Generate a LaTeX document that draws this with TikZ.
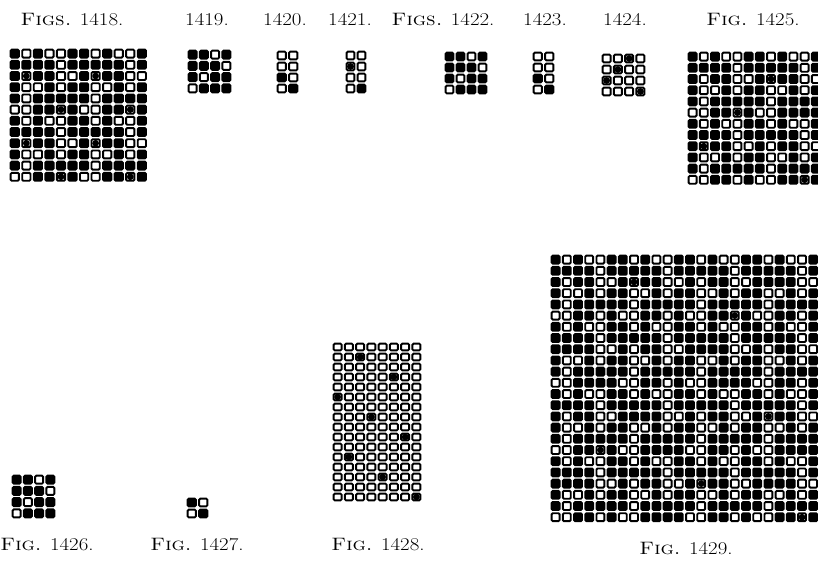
\documentclass[tikz,border=0pt]{standalone}
\usepackage{graphicx}
\tikzset{
  cellbase/.style={line width=1.9pt, rounded corners=1.1pt, draw=black},
  cellon/.style={cellbase, fill=black},
  celloff/.style={cellbase, fill=white},
  lab/.style={font=\fontsize{18}{20}\selectfont, inner sep=0pt, anchor=base}
}
\newcommand\sx[1]{\scalebox{1.16}[1]{#1}}
\newcommand\wv[5]{%
  \foreach \rw [count=\ri] in {#5}{%
    \foreach \cv [count=\ki] in \rw{%
      \pgfmathsetmacro\xa{#1+(\ki-1)*#3+1.65}%
      \pgfmathsetmacro\ya{#2+(\ri-1)*#4+1.65}%
      \pgfmathsetmacro\xb{#1+\ki*#3-1.65}%
      \pgfmathsetmacro\yb{#2+\ri*#4-1.65}%
      \ifcase\cv\relax
        \path[celloff] (\xa,\ya) rectangle (\xb,\yb);
      \or
        \path[cellon] (\xa,\ya) rectangle (\xb,\yb);
      \or
        \path[celloff] (\xa,\ya) rectangle (\xb,\yb);
        \fill ({(\xa+\xb)/2},{(\ya+\yb)/2}) circle[radius=3.4pt];
      \fi
    }}}
\begin{document}
\begin{tikzpicture}[x=1pt,y=-1pt]
\useasboundingbox (0,0) rectangle (818,562);
\fill[white] (0,0) rectangle (818,562);

% labels
\node[lab] (l1418) at (72,25) {\sx{\textsc{Figs.} 1418.}};
\node[lab] (l1419) at (207,25) {\sx{1419.}};
\node[lab] (l1420) at (285,25) {\sx{1420.}};
\node[lab] (l1421) at (350,25) {\sx{1421.}};
\node[lab] (l1422) at (443,25) {\sx{\textsc{Figs.} 1422.}};
\node[lab] (l1423) at (545,25) {\sx{1423.}};
\node[lab] (l1424) at (625,25) {\sx{1424.}};
\node[lab] (l1425) at (753,25) {\sx{\textsc{Fig.} 1425.}};
\node[lab] (l1426) at (47,550) {\sx{\textsc{Fig.} 1426.}};
\node[lab] (l1427) at (197,550) {\sx{\textsc{Fig.} 1427.}};
\node[lab] (l1428) at (378,550) {\sx{\textsc{Fig.} 1428.}};
\node[lab] (l1429) at (686,554) {\sx{\textsc{Fig.} 1429.}};

% Fig 1418
\wv{9}{48}{11.55}{11.2}{
{1,0,1,0,0,1,1,0,1,0,0,1},
{1,1,1,1,0,1,1,1,1,1,0,1},
{1,2,1,1,0,0,1,2,1,1,0,0},
{1,0,0,1,0,1,1,0,0,1,0,1},
{1,0,1,1,1,1,1,0,1,1,1,1},
{0,0,1,1,2,1,0,0,1,1,2,1},
{1,0,1,0,0,1,1,0,1,0,0,1},
{1,1,1,1,0,1,1,1,1,1,0,1},
{1,2,1,1,0,0,1,2,1,1,0,0},
{1,0,0,1,0,1,1,0,0,1,0,1},
{1,0,1,1,1,1,1,0,1,1,1,1},
{0,0,1,1,2,1,0,0,1,1,2,1}}

% Fig 1419
\wv{187}{49}{11.25}{11.25}{{1,1,0,1},{1,1,1,0},{1,0,1,1},{0,1,1,1}}
% Fig 1420
\wv{276}{50}{11.5}{11}{{0,0},{0,0},{1,0},{0,1}}
% Fig 1421
\wv{345}{50}{11}{11}{{0,0},{2,0},{0,0},{0,1}}
% Fig 1422
\wv{444}{51}{11}{11}{{1,1,0,1},{1,1,1,0},{1,0,1,1},{0,1,1,1}}
% Fig 1423
\wv{532}{51}{11.5}{11}{{0,0},{0,0},{1,0},{0,1}}
% Fig 1424
\wv{601}{53}{11.25}{11}{{0,0,2,0},{0,2,0,0},{2,0,0,0},{0,0,0,2}}

% Fig 1425
\wv{687}{51}{11.2}{11.2}{
{1,0,1,0,0,1,1,0,1,0,0,1},
{1,1,1,1,0,1,1,1,1,1,0,1},
{1,0,1,1,0,0,1,2,1,1,0,0},
{1,0,0,1,0,1,1,0,0,1,0,1},
{1,0,1,1,1,1,1,0,1,1,1,1},
{0,0,1,1,2,1,0,0,1,1,1,1},
{1,0,1,0,0,1,1,0,1,0,0,1},
{1,1,1,1,0,1,1,1,1,1,0,1},
{1,2,1,1,0,0,1,0,1,1,0,0},
{1,0,0,1,0,1,1,0,0,1,0,1},
{1,0,1,1,1,1,1,0,1,1,1,1},
{0,0,1,1,0,1,0,0,1,1,2,1}}

% Fig 1426
\wv{11}{474}{11.25}{11.25}{{1,1,0,1},{1,1,1,0},{1,0,1,1},{0,1,1,1}}
% Fig 1427
\wv{186}{497}{11.5}{11}{{1,0},{0,1}}

% Fig 1428
\wv{332}{342}{11.25}{10}{
{0,0,0,0,0,0,0,0},{0,0,2,0,0,0,0,0},
{0,0,0,0,0,0,0,0},{0,0,0,0,0,2,0,0},
{0,0,0,0,0,0,0,0},{2,0,0,0,0,0,0,0},
{0,0,0,0,0,0,0,0},{0,0,0,2,0,0,0,0},
{0,0,0,0,0,0,0,0},{0,0,0,0,0,0,2,0},
{0,0,0,0,0,0,0,0},{0,2,0,0,0,0,0,0},
{0,0,0,0,0,0,0,0},{0,0,0,0,2,0,0,0},
{0,0,0,0,0,0,0,0},{0,0,0,0,0,0,0,2}}

% Fig 1429
\wv{550}{254}{11.2}{11.2}{
{1,0,1,0,0,1,1,0,1,0,0,1,1,0,1,0,0,1,1,0,1,0,0,1},
{1,1,1,1,0,1,1,1,1,1,0,1,1,1,1,1,0,1,1,1,1,1,0,1},
{1,0,1,1,0,0,1,2,1,1,0,0,1,0,1,1,0,0,1,1,1,1,0,0},
{1,0,0,1,0,1,1,0,0,1,0,1,1,0,0,1,0,1,1,0,0,1,0,1},
{1,0,1,1,1,1,1,0,1,1,1,1,1,0,1,1,1,1,1,0,1,1,1,1},
{0,0,1,1,0,1,0,0,1,1,0,1,0,0,1,1,2,1,0,0,1,1,0,1},
{1,0,1,0,0,1,1,0,1,0,0,1,1,0,1,0,0,1,1,0,1,0,0,1},
{1,1,1,1,0,1,1,1,1,1,0,1,1,1,1,1,0,1,1,1,1,1,0,1},
{1,1,1,1,0,0,1,0,1,1,0,0,1,1,1,1,0,0,1,0,1,1,0,0},
{1,0,0,1,0,1,1,0,0,1,0,1,1,0,0,1,0,1,1,0,0,1,0,1},
{1,0,1,1,1,1,1,0,1,1,1,1,1,0,1,1,1,1,1,0,1,1,1,1},
{0,0,1,1,1,1,0,0,1,1,0,1,0,0,1,1,1,1,0,0,1,1,0,1},
{1,0,1,0,0,1,1,0,1,0,0,1,1,0,1,0,0,1,1,0,1,0,0,1},
{1,1,1,1,0,1,1,1,1,1,0,1,1,1,1,1,0,1,1,1,1,1,0,1},
{1,0,1,1,0,0,1,1,1,1,0,0,1,0,1,1,0,0,1,2,1,1,0,0},
{1,0,0,1,0,1,1,0,0,1,0,1,1,0,0,1,0,1,1,0,0,1,0,1},
{1,0,1,1,1,1,1,0,1,1,1,1,1,0,1,1,1,1,1,0,1,1,1,1},
{0,0,1,1,2,1,0,0,1,1,1,1,0,0,1,1,0,1,0,0,1,1,1,1},
{1,0,1,0,0,1,1,0,1,0,0,1,1,0,1,0,0,1,1,0,1,0,0,1},
{1,1,1,1,0,1,1,1,1,1,0,1,1,1,1,1,0,1,1,1,1,1,0,1},
{1,1,1,1,0,0,1,0,1,1,0,0,1,2,1,1,0,0,1,1,1,1,0,0},
{1,0,0,1,0,1,1,0,0,1,0,1,1,0,0,1,0,1,1,0,0,1,0,1},
{1,0,1,1,1,1,1,0,1,1,1,1,1,0,1,1,1,1,1,0,1,1,1,1},
{0,0,1,1,0,1,0,0,1,1,1,1,0,0,1,1,0,1,0,0,1,1,2,1}}
\end{tikzpicture}
\end{document}
